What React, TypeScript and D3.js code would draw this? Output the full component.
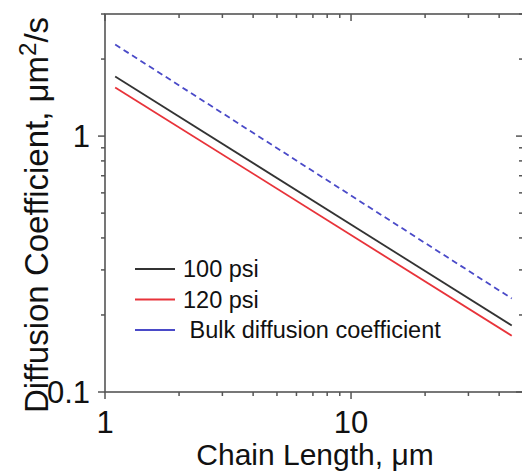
import React from "react";
import * as d3 from "d3";

const chainLength = [1.1, 45];
const d100psi = [1.71, 0.182];
const d120psi = [1.55, 0.166];
const dBulk = [2.28, 0.232];
const seriesNames = ["100 psi", "120 psi", " Bulk diffusion coefficient"];
const seriesColors = ["#333333", "#e8333a", "#4a4ac8"];
const xTickLabels = ["1", "10"];
const yTickLabels = ["0.1", "1"];

const W = 522;
const H = 472;
const M = { left: 105, right: 523, top: 14, bottom: 392 };

export default function App() {
  const x = d3.scaleLog().domain([1, 50]).range([M.left, M.right]);
  const y = d3.scaleLog().domain([0.1, 3]).range([M.bottom, M.top]);
  const font = "Arial, 'Liberation Sans', Helvetica, sans-serif";
  const axisColor = "#555";

  const series = [d100psi, d120psi, dBulk];
  const line = d3
    .line<[number, number]>()
    .x((d) => x(d[0]))
    .y((d) => y(d[1]));

  const xMinor: number[] = [];
  for (let dec = 1; dec <= 10; dec *= 10)
    for (let k = 1; k <= 9; k++) {
      const v = k * dec;
      if (v <= 50) xMinor.push(v);
    }
  const yMinor: number[] = [];
  for (let dec = 0.1; dec <= 1.01; dec *= 10)
    for (let k = 1; k <= 9; k++) {
      const v = k * dec;
      if (v <= 3.001) yMinor.push(v);
    }
  const isMajor = (v: number) => Math.abs(Math.log10(v) - Math.round(Math.log10(v))) < 1e-6;

  return (
    <svg width={W} height={H} style={{ position: "absolute", left: 0, top: 0, background: "#fff" }}>
      {/* frame */}
      <rect x={M.left} y={M.top} width={M.right - M.left} height={M.bottom - M.top} fill="none" stroke={axisColor} strokeWidth={1.6} />
      {/* x ticks */}
      {xMinor.map((v, i) => {
        const len = isMajor(v) ? 7 : 4;
        const px = x(v);
        return (
          <g key={"xt" + i}>
            <line x1={px} x2={px} y1={M.bottom} y2={M.bottom + len} stroke={axisColor} strokeWidth={1.5} />
            <line x1={px} x2={px} y1={M.top} y2={M.top + len} stroke={axisColor} strokeWidth={1.5} />
          </g>
        );
      })}
      {/* y ticks */}
      {yMinor.map((v, i) => {
        const len = isMajor(v) ? 7 : 4;
        const py = y(v);
        return (
          <g key={"yt" + i}>
            <line x1={M.left - len} x2={M.left} y1={py} y2={py} stroke={axisColor} strokeWidth={1.5} />
            <line x1={M.right - len} x2={M.right} y1={py} y2={py} stroke={axisColor} strokeWidth={1.5} />
          </g>
        );
      })}
      {/* tick labels */}
      {xTickLabels.map((t) => (
        <text key={"xl" + t} x={x(+t)} y={433} textAnchor="middle" fontFamily={font} fontSize={31} fill="#111">
          {t}
        </text>
      ))}
      {yTickLabels.map((t) => (
        <text key={"yl" + t} x={90} y={y(+t)} dy="0.36em" textAnchor="end" fontFamily={font} fontSize={31} fill="#111">
          {t}
        </text>
      ))}
      {/* axis titles */}
      <text x={315} y={465} textAnchor="middle" fontFamily={font} fontSize={30} fill="#111">
        Chain Length, μm
      </text>
      <text transform={`translate(48,${215}) rotate(-90)`} textAnchor="middle" fontFamily={font} fontSize={33} fill="#111">
        Diffusion Coefficient, μm<tspan dy="-12" fontSize={24}>2</tspan><tspan dy="12">/s</tspan>
      </text>
      {/* lines */}
      {series.map((s, i) => (
        <path
          key={"s" + i}
          d={line(chainLength.map((c, j) => [c, s[j]] as [number, number])) || ""}
          fill="none"
          stroke={seriesColors[i]}
          strokeWidth={1.8}
          strokeDasharray={i === 2 ? "6,4" : undefined}
        />
      ))}
      {/* legend */}
      {seriesNames.map((n, i) => {
        const ly = 269 + i * 30.5;
        return (
          <g key={"lg" + i}>
            <line x1={135} x2={175} y1={ly} y2={ly} stroke={seriesColors[i]} strokeWidth={1.8} />
            <text x={183} y={ly} dy="0.36em" fontFamily={font} fontSize={23.5} fill="#111" style={{ whiteSpace: "pre" }}>
              {n}
            </text>
          </g>
        );
      })}
    </svg>
  );
}
